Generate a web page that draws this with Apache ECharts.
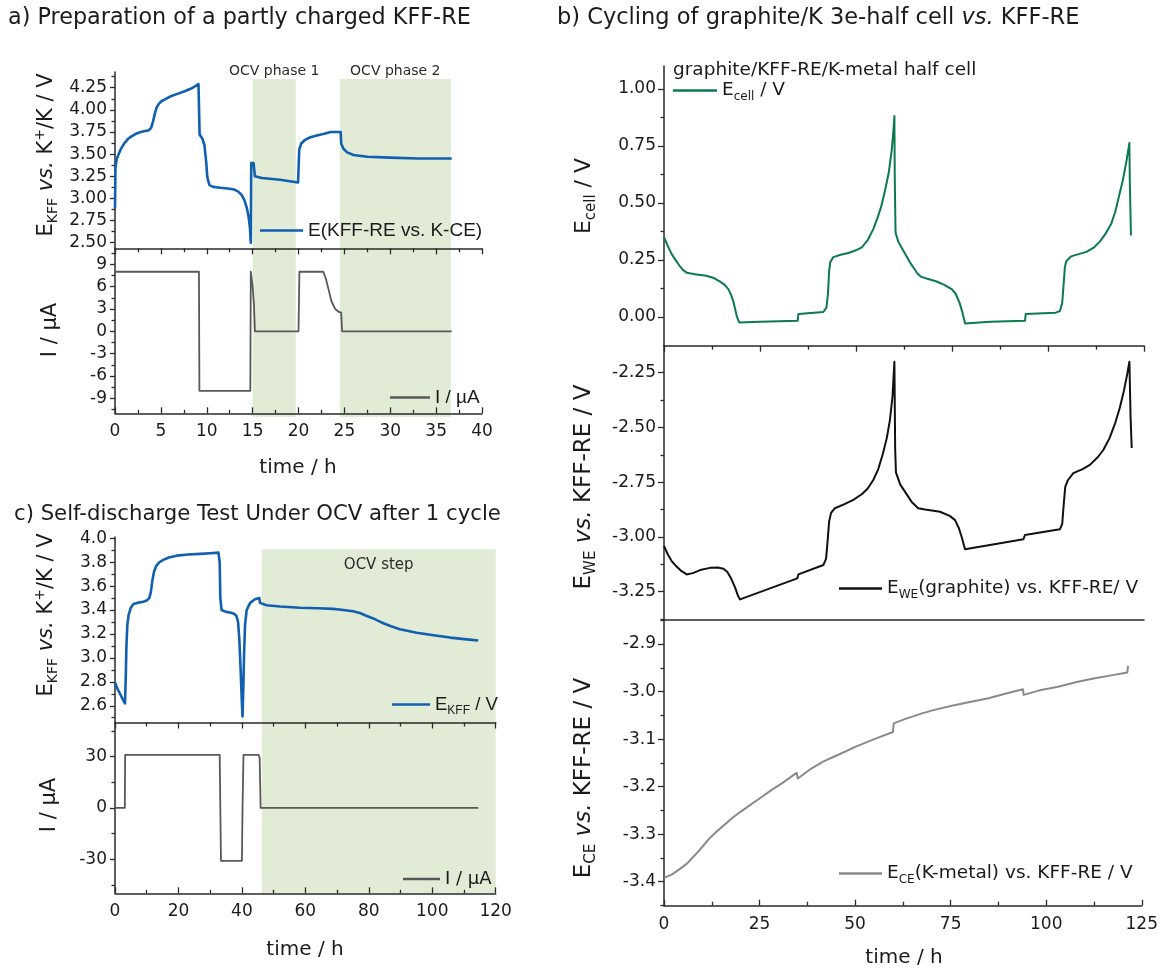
<!DOCTYPE html>
<html>
<head>
<meta charset="utf-8">
<script src="https://cdn.jsdelivr.net/npm/echarts@6.0.0/dist/echarts.min.js"></script>
<style>
  html, body { margin: 0; padding: 0; background: #ffffff; }
  #main { width: 1161px; height: 968px; }
</style>
</head>
<body>
<div id="main"></div>
<script>
// ---------- a) preparation of a partly charged KFF-RE ----------
const prepTime = [0, 0.05, 0.2, 0.6, 1.0, 1.4, 1.8, 2.3, 2.8, 3.3,
  3.7, 3.95, 4.15, 4.35, 4.55, 4.8, 5.1, 5.5, 6.0, 6.8,
  7.6, 8.3, 8.8, 9.1, 9.17, 9.22, 9.5, 9.75, 9.85, 9.95,
  10.05, 10.15, 10.3, 10.7, 11.5, 12.5, 13.0, 13.4, 13.8, 14.1,
  14.35, 14.55, 14.7, 14.8, 14.85, 15.1, 15.25, 16.0, 18.0, 19.95,
  20.08, 20.3, 20.7, 21.3, 22.0, 22.8, 23.5, 24.6, 24.65, 24.9,
  25.3, 26.0, 27.5, 30.0, 33.0, 36.7];
const prepPotential = [2.89, 3.35, 3.45, 3.55, 3.62, 3.67, 3.70, 3.73, 3.75, 3.76,
  3.77, 3.80, 3.87, 3.96, 4.03, 4.07, 4.10, 4.12, 4.15, 4.18,
  4.21, 4.24, 4.27, 4.29, 4.30, 3.72, 3.68, 3.60, 3.50, 3.40,
  3.25, 3.20, 3.15, 3.13, 3.12, 3.11, 3.10, 3.08, 3.04, 2.98,
  2.90, 2.80, 2.68, 2.50, 3.40, 3.40, 3.25, 3.23, 3.21, 3.18,
  3.55, 3.62, 3.66, 3.69, 3.71, 3.73, 3.75, 3.75, 3.62, 3.56,
  3.52, 3.49, 3.47, 3.46, 3.45, 3.45];
const prepCurrentTime = [0, 9.15, 9.2, 14.75, 14.8, 15.0, 15.15, 15.25, 20.0, 20.1, 22.7, 23.0, 23.3, 23.6, 24.0, 24.4, 24.65, 24.75, 36.7];
const prepCurrent = [8, 8, -8, -8, 8, 6, 3.5, 0, 0, 8, 8, 7, 5.5, 4, 3, 2.6, 2.5, 0, 0];
const prepOcvSpans = [[15.0, 19.7], [24.5, 36.6]];
const prepOcvNames = ['OCV phase 1', 'OCV phase 2'];
const prepTimeTicks = [0, 5, 10, 15, 20, 25, 30, 35, 40];
const prepTimeMinor = [2.5, 7.5, 12.5, 17.5, 22.5, 27.5, 32.5, 37.5];
const prepPotentialTicks = [2.5, 2.75, 3.0, 3.25, 3.5, 3.75, 4.0, 4.25];
const prepPotentialMinor = [2.625, 2.875, 3.125, 3.375, 3.625, 3.875, 4.125, 4.375];
const prepCurrentTicks = [-9, -6, -3, 0, 3, 6, 9];
const prepCurrentMinor = [-10.5, -7.5, -4.5, -1.5, 1.5, 4.5, 7.5, 10.5];

// ---------- b) cycling of the graphite/K three-electrode half cell ----------
const cellTime = [0, 1, 2, 3, 4, 5, 6, 8, 11, 13,
  14.6, 15.8, 16.8, 17.5, 18.0, 18.5, 19.0, 19.6, 25, 30,
  34.8, 35.0, 41.5, 42.3, 42.7, 43.0, 43.3, 44.1, 46, 48,
  50, 51.5, 53, 54.5, 55.5, 56.5, 57.5, 58.5, 59.3, 59.8,
  60.0, 60.1, 60.3, 61, 62, 63, 64, 65, 66, 67,
  69, 71, 73, 75, 76, 77, 77.7, 78.4, 85, 94.0,
  94.2, 102, 103.1, 103.7, 104.1, 104.4, 104.8, 106, 108, 110,
  112, 113.5, 115, 116.5, 117.5, 118.5, 119.5, 120.5, 121.2, 121.3,
  121.6];
const cellVoltage = [0.351, 0.31, 0.275, 0.25, 0.225, 0.205, 0.193, 0.187, 0.180, 0.170,
  0.154, 0.140, 0.120, 0.095, 0.070, 0.035, 0.0, -0.025, -0.022, -0.020,
  -0.018, 0.012, 0.021, 0.04, 0.10, 0.20, 0.24, 0.262, 0.272, 0.280,
  0.292, 0.305, 0.335, 0.385, 0.43, 0.48, 0.55, 0.63, 0.73, 0.83,
  0.881, 0.60, 0.37, 0.33, 0.30, 0.27, 0.24, 0.215, 0.19, 0.175,
  0.165, 0.155, 0.14, 0.12, 0.10, 0.06, 0.02, -0.029, -0.022, -0.018,
  0.012, 0.018, 0.025, 0.06, 0.15, 0.22, 0.245, 0.265, 0.275, 0.285,
  0.305, 0.33, 0.365, 0.41, 0.46, 0.53, 0.60, 0.69, 0.763, 0.60,
  0.357];
const weTime = [0, 1, 2, 3, 4.5, 5.9, 7.5, 9.4, 12, 14,
  15.5, 16.5, 17.5, 18.5, 19.3, 19.8, 34.7, 35.0, 41.5, 42.2,
  42.6, 43.0, 43.5, 44.5, 47, 49.3, 51.5, 53, 54.5, 55.8,
  57, 58, 58.8, 59.5, 60.0, 60.2, 60.4, 61.5, 63, 64.5,
  66.2, 68, 71.9, 74.5, 75.8, 76.8, 77.5, 78.4, 93.6, 94.0,
  103.1, 103.7, 104.1, 104.5, 105.2, 106.6, 109, 110.9, 113, 114.4,
  116, 117.5, 118.7, 119.8, 120.6, 121.2, 121.5, 121.8];
const wePotential = [-3.041, -3.08, -3.11, -3.13, -3.155, -3.171, -3.165, -3.151, -3.141, -3.139,
  -3.145, -3.16, -3.19, -3.23, -3.27, -3.285, -3.189, -3.171, -3.128, -3.10,
  -3.02, -2.93, -2.89, -2.869, -2.85, -2.831, -2.805, -2.78, -2.74, -2.69,
  -2.62, -2.55, -2.47, -2.36, -2.20, -2.60, -2.705, -2.76, -2.80, -2.84,
  -2.869, -2.875, -2.885, -2.905, -2.923, -2.96, -2.999, -3.056, -3.010, -2.991,
  -2.965, -2.94, -2.85, -2.77, -2.74, -2.709, -2.69, -2.671, -2.635, -2.603,
  -2.55, -2.48, -2.41, -2.33, -2.26, -2.200, -2.45, -2.594];
const ceTime = [0, 2, 4, 6, 8, 10, 12, 14, 16.3, 18, 20, 22.5, 25, 28, 31, 34.7, 35.0, 38, 41.5, 45,
  50.2, 55, 59.9, 60.1, 63, 67.5, 71, 75.3, 80, 84.9, 89, 93.9, 94.1, 98, 103.1, 108, 112.7, 117, 121.2, 121.4];
const cePotential = [-3.392, -3.385, -3.374, -3.362, -3.345, -3.327, -3.308, -3.293, -3.277, -3.265,
  -3.253, -3.239, -3.225, -3.208, -3.192, -3.171, -3.183, -3.165, -3.148, -3.135,
  -3.116, -3.100, -3.085, -3.067, -3.058, -3.046, -3.038, -3.030, -3.022, -3.014,
  -3.005, -2.995, -3.007, -2.998, -2.990, -2.980, -2.972, -2.966, -2.960, -2.946];
const cycleTimeTicks = [0, 25, 50, 75, 100, 125];
const cycleTimeMinor = [12.5, 37.5, 62.5, 87.5, 112.5];
const cellTicks = [0, 0.25, 0.5, 0.75, 1.0];
const cellMinor = [0.125, 0.375, 0.625, 0.875];
const weTicks = [-3.25, -3.0, -2.75, -2.5, -2.25];
const weMinor = [-3.375, -3.125, -2.875, -2.625, -2.375, -2.125];
const ceTicks = [-3.4, -3.3, -3.2, -3.1, -3.0, -2.9];
const ceMinor = [-3.45, -3.35, -3.25, -3.15, -3.05, -2.95, -2.85];

// ---------- c) self-discharge under OCV after one cycle ----------
const selfTime = [0, 0.8, 1.6, 2.5, 3.15, 3.4, 3.6, 3.9, 4.3, 5,
  5.8, 7, 8.9, 10.0, 10.8, 11.3, 11.8, 12.3, 13, 14,
  15.2, 17, 19.4, 23, 26.8, 30, 32.6, 33.0, 33.2, 33.6,
  35, 36.3, 37.5, 38.3, 38.8, 39.2, 39.6, 40.0, 40.2, 40.45,
  40.7, 41.0, 41.5, 42.6, 44.1, 45.5, 45.7, 45.9, 47.8, 52,
  58.3, 64, 68.8, 72, 75.0, 77.2, 79, 81.4, 83, 84.6,
  87, 89.8, 92.5, 95.1, 100.4, 105.6, 110.9, 114.5];
const selfPotential = [2.795, 2.74, 2.70, 2.65, 2.62, 2.85, 3.10, 3.28, 3.36, 3.42,
  3.45, 3.46, 3.47, 3.48, 3.50, 3.55, 3.65, 3.72, 3.77, 3.80,
  3.82, 3.84, 3.855, 3.865, 3.87, 3.875, 3.88, 3.80, 3.50, 3.40,
  3.385, 3.38, 3.37, 3.35, 3.30, 3.15, 2.90, 2.62, 2.51, 2.75,
  3.05, 3.28, 3.40, 3.46, 3.49, 3.50, 3.46, 3.45, 3.44, 3.43,
  3.42, 3.415, 3.41, 3.40, 3.39, 3.375, 3.355, 3.33, 3.31, 3.29,
  3.265, 3.24, 3.225, 3.21, 3.19, 3.17, 3.155, 3.145];
const selfCurrentTime = [0, 3.1, 3.2, 33.0, 33.2, 33.4, 40.0, 40.2, 40.5, 45.3, 45.6, 45.9, 114.5];
const selfCurrent = [0, 0, 31, 31, 0, -31, -31, 0, 31, 31, 29, 0, 0];
const selfOcvSpans = [[46.25, 120]];
const selfOcvNames = ['OCV step'];
const selfTimeTicks = [0, 20, 40, 60, 80, 100, 120];
const selfTimeMinor = [10, 30, 50, 70, 90, 110];
const selfPotentialTicks = [2.6, 2.8, 3.0, 3.2, 3.4, 3.6, 3.8, 4.0];
const selfPotentialMinor = [2.5, 2.7, 2.9, 3.1, 3.3, 3.5, 3.7, 3.9];
const selfCurrentTicks = [-30, 0, 30];
const selfCurrentMinor = [-45, -15, 15, 45];

// ---------- styling ----------
const TEXT = '#1b1b1b';
const AXIS_COLOR = '#2a2a2a';
const SHADE = '#e2ebd6';
const BLUE = '#1160b0';
const SANS = '"DejaVu Sans", Verdana, sans-serif';
const ARIAL = '"Liberation Sans", Arial, sans-serif';

const zip = (xs, ys) => xs.map((x, i) => [x, ys[i]]);
const fixed = d => v => v.toFixed(d);

const grid = [], xAxis = [], yAxis = [], series = [], legend = [], graphic = [];

function addGrid(left, top, width, height) {
  grid.push({ left, top, width, height, containLabel: false, show: false });
  return grid.length - 1;
}

// one visible axis carrying the labelled ticks, plus an overlay carrying the short minor ticks
function addAxis(list, gi, cfg) {
  const isX = list === xAxis;
  const tickStyle = { color: AXIS_COLOR, width: 1.3 };
  const main = {
    type: 'value', gridIndex: gi, min: cfg.min, max: cfg.max, z: 3,
    position: isX ? 'bottom' : 'left',
    splitLine: { show: false },
    axisLine: { show: cfg.line !== false, onZero: false, lineStyle: { color: AXIS_COLOR, width: 1.5 } },
    axisTick: { show: !!cfg.major, inside: !!cfg.inside, length: cfg.len || 6, lineStyle: tickStyle, customValues: cfg.major || [] },
    axisLabel: cfg.fmt ? {
      show: true, customValues: cfg.major, formatter: cfg.fmt,
      fontFamily: SANS, fontSize: cfg.fontSize || 17, color: TEXT, margin: isX ? 10 : 8
    } : { show: false }
  };
  list.push(main);
  const idx = list.length - 1;
  if (cfg.minor) {
    list.push({
      type: 'value', gridIndex: gi, min: cfg.min, max: cfg.max, z: 3, position: main.position,
      splitLine: { show: false }, axisLine: { show: false, onZero: false }, axisLabel: { show: false },
      axisTick: { show: true, inside: !!cfg.inside, length: cfg.minorLen || 3.5, lineStyle: tickStyle, customValues: cfg.minor }
    });
  }
  return idx;
}

function addHiddenAxes(gi, xmin, xmax) {
  xAxis.push({ type: 'value', gridIndex: gi, min: xmin, max: xmax, show: false });
  yAxis.push({ type: 'value', gridIndex: gi, min: 0, max: 1, show: false });
  return [xAxis.length - 1, yAxis.length - 1];
}

function addLine(name, xi, yi, data, color, width) {
  series.push({
    type: 'line', name, xAxisIndex: xi, yAxisIndex: yi, data,
    showSymbol: false, symbol: 'none', z: 4, clip: true,
    lineStyle: { color, width, join: 'round' }, itemStyle: { color }
  });
}

// shaded open-circuit windows with their captions
function addShade(xi, yi, spans, names, inside, fontSize) {
  series.push({
    type: 'custom', xAxisIndex: xi, yAxisIndex: yi, z: 1, silent: true, clip: false,
    data: spans.map(s => [s[0], s[1]]),
    encode: { x: [0, 1] },
    renderItem(params, api) {
      const a = api.coord([api.value(0), 1]);
      const b = api.coord([api.value(1), 0]);
      return {
        type: 'group', children: [
          { type: 'rect', shape: { x: a[0], y: a[1], width: b[0] - a[0], height: b[1] - a[1] }, style: { fill: SHADE } },
          { type: 'text', x: (a[0] + b[0]) / 2, y: inside ? a[1] + 16 : a[1] - 8,
            style: { text: names[params.dataIndex], fill: '#2b2b2b', fontSize, fontFamily: SANS, align: 'center', verticalAlign: 'middle' } }
        ]
      };
    }
  });
}

// rich-text token sets: legend/axis labels use "color", graphic text uses "fill"
function richTokens(size, family, colorKey) {
  const c = {}; c[colorKey] = TEXT;
  const lh = Math.round(size * 1.3);
  const sub = Math.round(size * 0.66);
  return {
    n: Object.assign({ fontSize: size, fontFamily: family, lineHeight: lh }, c),
    i: Object.assign({ fontSize: size, fontFamily: family, fontStyle: 'italic', lineHeight: lh }, c),
    s: Object.assign({ fontSize: sub, fontFamily: family, verticalAlign: 'bottom' }, c),
    p: Object.assign({ fontSize: sub, fontFamily: family, verticalAlign: 'top' }, c)
  };
}

function addLegend(name, left, top, width, label, size, family) {
  legend.push({
    left, top, padding: 0, itemWidth: width, itemHeight: 2.5, icon: 'rect', selectedMode: false,
    data: [name],
    textStyle: { color: TEXT, fontSize: size, fontFamily: family, rich: richTokens(size, family, 'color') },
    formatter: () => label
  });
}

function addText(x, y, text, size, opt = {}) {
  graphic.push({
    type: 'text', x, y, rotation: opt.rot || 0, z: 10, silent: true,
    style: {
      text, fill: TEXT, fontSize: size, fontFamily: opt.family || SANS,
      align: opt.align || 'left', verticalAlign: 'middle',
      rich: richTokens(size, opt.family || SANS, 'fill')
    }
  });
}

// ---------- panel a ----------
{
  const gTop = addGrid(115, 72, 367, 176.3);
  const gBot = addGrid(115, 248.3, 367, 165);
  const gShade = addGrid(115, 79, 367, 338);
  const [sx, sy] = addHiddenAxes(gShade, 0, 40);
  addShade(sx, sy, prepOcvSpans, prepOcvNames, false, 14);

  const x1 = addAxis(xAxis, gTop, { min: 0, max: 40, major: prepTimeTicks, minor: prepTimeMinor, len: 6, minorLen: 4 });
  const y1 = addAxis(yAxis, gTop, { min: 2.437, max: 4.427, major: prepPotentialTicks, minor: prepPotentialMinor, len: 5, fmt: fixed(2) });
  const x2 = addAxis(xAxis, gBot, { min: 0, max: 40, major: prepTimeTicks, minor: prepTimeMinor, inside: true, len: 6, minorLen: 3.5, fmt: fixed(0) });
  const y2 = addAxis(yAxis, gBot, { min: -11.02, max: 11.15, major: prepCurrentTicks, minor: prepCurrentMinor, len: 5, fmt: fixed(0) });

  addLine('E(KFF-RE vs. K-CE)', x1, y1, zip(prepTime, prepPotential), BLUE, 2.6);
  addLine('I / µA (prep)', x2, y2, zip(prepCurrentTime, prepCurrent), '#585858', 1.8);

  addLegend('E(KFF-RE vs. K-CE)', 260, 221, 43, '{n|E(KFF-RE vs. K-CE)}', 19, ARIAL);
  addLegend('I / µA (prep)', 390, 388, 40, '{n|I / µA}', 19, ARIAL);

  addText(8, 18, 'a) Preparation of a partly charged KFF-RE', 22.3);
  addText(47, 155, '{n|E}{s|KFF}{n| }{i|vs.}{n| K}{p|+}{n|/K / V}', 21, { rot: Math.PI / 2, align: 'center' });
  addText(51, 330, '{n|I / µA}', 21, { rot: Math.PI / 2, align: 'center' });
  addText(298, 468, 'time / h', 20, { align: 'center' });
}

// ---------- panel b ----------
{
  const g1 = addGrid(664, 66, 480, 279.7);
  const g2 = addGrid(664, 345.7, 480, 274.3);
  const g3 = addGrid(664, 620, 480, 285.7);

  const x1 = addAxis(xAxis, g1, { min: 0, max: 125, major: cycleTimeTicks, minor: cycleTimeMinor, len: 6, minorLen: 4 });
  const y1 = addAxis(yAxis, g1, { min: -0.127, max: 1.101, major: cellTicks, minor: cellMinor, len: 6, fmt: fixed(2) });
  const x2 = addAxis(xAxis, g2, { min: 0, max: 125 });
  const y2 = addAxis(yAxis, g2, { min: -3.379, max: -2.127, major: weTicks, minor: weMinor, len: 6, fmt: fixed(2) });
  const x3 = addAxis(xAxis, g3, { min: 0, max: 125, major: cycleTimeTicks, minor: cycleTimeMinor, inside: true, len: 6, minorLen: 4, fmt: fixed(0) });
  const y3 = addAxis(yAxis, g3, { min: -3.4505, max: -2.8495, major: ceTicks, minor: ceMinor, len: 6, fmt: fixed(1) });

  addLine('E_cell / V', x1, y1, zip(cellTime, cellVoltage), '#0b7a4e', 2);
  addLine('E_WE(graphite) vs. KFF-RE/ V', x2, y2, zip(weTime, wePotential), '#111111', 2);
  addLine('E_CE(K-metal) vs. KFF-RE / V', x3, y3, zip(ceTime, cePotential), '#8a8a8a', 2);

  addText(673, 70, 'graphite/KFF-RE/K-metal half cell', 18.5);
  addLegend('E_cell / V', 673, 81, 44, '{n|E}{s|cell}{n| / V}', 18.5, SANS);
  addLegend('E_WE(graphite) vs. KFF-RE/ V', 839, 579, 43, '{n|E}{s|WE}{n|(graphite) vs. KFF-RE/ V}', 18.5, SANS);
  addLegend('E_CE(K-metal) vs. KFF-RE / V', 839, 864, 43, '{n|E}{s|CE}{n|(K-metal) vs. KFF-RE / V}', 18.5, SANS);

  addText(557, 18, '{n|b) Cycling of graphite/K 3e-half cell }{i|vs.}{n| KFF-RE}', 22.5);
  addText(584, 196, '{n|E}{s|cell}{n| / V}', 22, { rot: Math.PI / 2, align: 'center' });
  addText(584, 487, '{n|E}{s|WE}{n| }{i|vs.}{n| KFF-RE / V}', 23, { rot: Math.PI / 2, align: 'center' });
  addText(584, 778, '{n|E}{s|CE}{n| }{i|vs.}{n| KFF-RE / V}', 23, { rot: Math.PI / 2, align: 'center' });
  addText(904, 958, 'time / h', 20, { align: 'center' });
}

// ---------- panel c ----------
{
  const gTop = addGrid(115, 537, 380.7, 185.5);
  const gBot = addGrid(115, 722.5, 380.7, 170.8);
  const gShade = addGrid(115, 549.3, 380.7, 344);
  const [sx, sy] = addHiddenAxes(gShade, 0, 120);
  addShade(sx, sy, selfOcvSpans, selfOcvNames, true, 15);

  const x1 = addAxis(xAxis, gTop, { min: 0, max: 120, major: selfTimeTicks, minor: selfTimeMinor, len: 6, minorLen: 4 });
  const y1 = addAxis(yAxis, gTop, { min: 2.46, max: 4.011, major: selfPotentialTicks, minor: selfPotentialMinor, len: 5, fmt: fixed(1) });
  const x2 = addAxis(xAxis, gBot, { min: 0, max: 120, major: selfTimeTicks, minor: selfTimeMinor, inside: true, len: 6, minorLen: 3.5, fmt: fixed(0) });
  const y2 = addAxis(yAxis, gBot, { min: -50, max: 50, major: selfCurrentTicks, minor: selfCurrentMinor, len: 5, fmt: fixed(0) });

  addLine('E_KFF / V', x1, y1, zip(selfTime, selfPotential), BLUE, 2.6);
  addLine('I / µA', x2, y2, zip(selfCurrentTime, selfCurrent), '#585858', 1.8);

  addLegend('E_KFF / V', 392, 695, 38, '{n|E}{s|KFF}{n| / V}', 18.5, ARIAL);
  addLegend('I / µA', 403, 870, 37, '{n|I / µA}', 18, SANS);

  addText(14, 514, 'c) Self-discharge Test Under OCV after 1 cycle', 21.2);
  addText(47, 615, '{n|E}{s|KFF}{n| }{i|vs.}{n| K}{p|+}{n|/K / V}', 21, { rot: Math.PI / 2, align: 'center' });
  addText(50, 805, '{n|I / µA}', 21, { rot: Math.PI / 2, align: 'center' });
  addText(305, 950, 'time / h', 20, { align: 'center' });
}

const chart = echarts.init(document.getElementById('main'), null, { renderer: 'canvas', width: 1161, height: 968 });
chart.setOption({
  animation: false,
  backgroundColor: '#ffffff',
  grid, xAxis, yAxis, series, legend, graphic
});
</script>
</body>
</html>
